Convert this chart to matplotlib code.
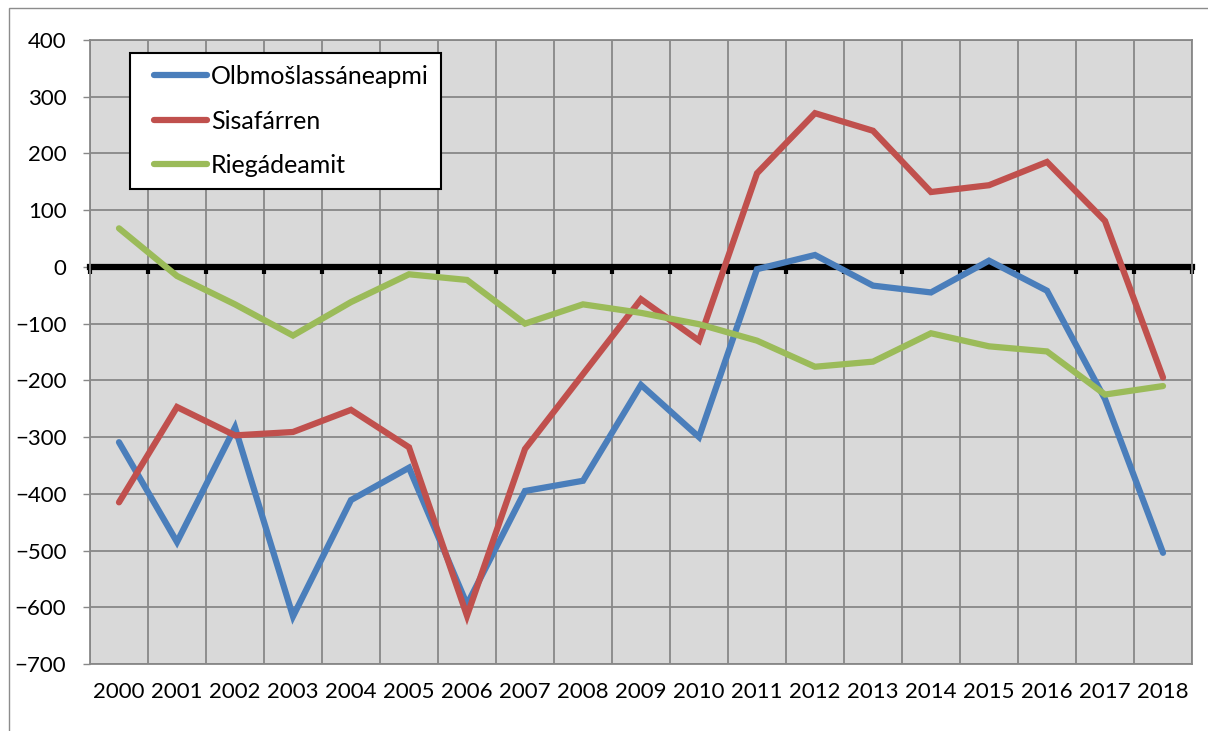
import numpy as np
import matplotlib
matplotlib.use("Agg")
import matplotlib.pyplot as plt
from matplotlib.patches import Rectangle
from matplotlib.legend_handler import HandlerLine2D

# data
years = [str(y) for y in range(2000, 2019)]
olbmo = [-309, -485, -283, -616, -411, -354, -595, -395, -377, -208, -300,
         -4, 21, -33, -45, 11, -42, -233, -504]
sisa = [-415, -247, -297, -291, -252, -318, -615, -321, -189, -57, -130,
        165, 271, 240, 132, 144, 185, 81, -195]
riega = [68, -16, -66, -121, -62, -13, -23, -100, -66, -81, -101,
         -130, -176, -167, -117, -140, -149, -225, -210]
names = ["Olbmošlassáneapmi", "Sisafárren", "Riegádeamit"]
colors = ["#4A7EBB", "#C0504D", "#9BBB59"]
yticks = list(range(-700, 401, 100))

plt.rcParams['font.family'] = ['Lato', 'DejaVu Sans']
grid_c = "#888888"

fig = plt.figure(figsize=(12.08, 7.31), dpi=100)
ax = fig.add_axes([90/1208, 1-664/731, 1102/1208, 624/731])
ax.set_facecolor("#D9D9D9")

x = np.arange(len(years))
for vals, name, c in zip([olbmo, sisa, riega], names, colors):
    ax.plot(x, vals, color=c, lw=4.5, label=name, zorder=3,
            solid_joinstyle='miter', solid_capstyle='round')

ax.set_xlim(-0.5, len(years) - 0.5)
ax.set_ylim(-700, 400)
bounds = np.arange(-0.5, len(years), 1.0)
ax.set_xticks(bounds)
ax.set_xticklabels([])
ax.set_xticks(x, years, minor=True)
ax.tick_params(axis='x', which='both', length=0)
ax.tick_params(axis='x', which='minor', labelsize=16, pad=13, colors='black')
ax.set_yticks(yticks)
ax.tick_params(axis='y', length=5, width=1, color=grid_c, labelsize=16,
               pad=12, labelcolor='black')
ax.set_axisbelow(True)
ax.grid(True, which='major', color=grid_c, lw=1.3)
for s in ax.spines.values():
    s.set_color(grid_c)
    s.set_linewidth(1.3)

# black axis line at zero with ticks at category boundaries
sec = ax.secondary_xaxis(0, transform=ax.transData)
sec.spines['bottom'].set_color('black')
sec.spines['bottom'].set_linewidth(4.5)
sec.set_xticks(bounds)
sec.tick_params(axis='x', length=5, width=3, color='black', direction='out',
                labelbottom=False)
sec.set_zorder(1)

leg = ax.legend(loc='upper left', bbox_to_anchor=(0.036, 0.979),
                borderaxespad=0, fontsize=18, frameon=True, fancybox=False,
                edgecolor='black', framealpha=1, numpoints=2,
                handlelength=3.12, handletextpad=-0.34, labelspacing=0.86,
                borderpad=0.48,
                handler_map={plt.Line2D: HandlerLine2D(marker_pad=0.5)})
leg.get_frame().set_linewidth(1.5)

# outer chart border
fig.patches.append(Rectangle((9/1208, -0.01), 1.0, 1 - 8/731 + 0.01,
                             transform=fig.transFigure, fill=False,
                             edgecolor="#8C8C8C", lw=1))

fig.savefig("out.png", dpi=100)
